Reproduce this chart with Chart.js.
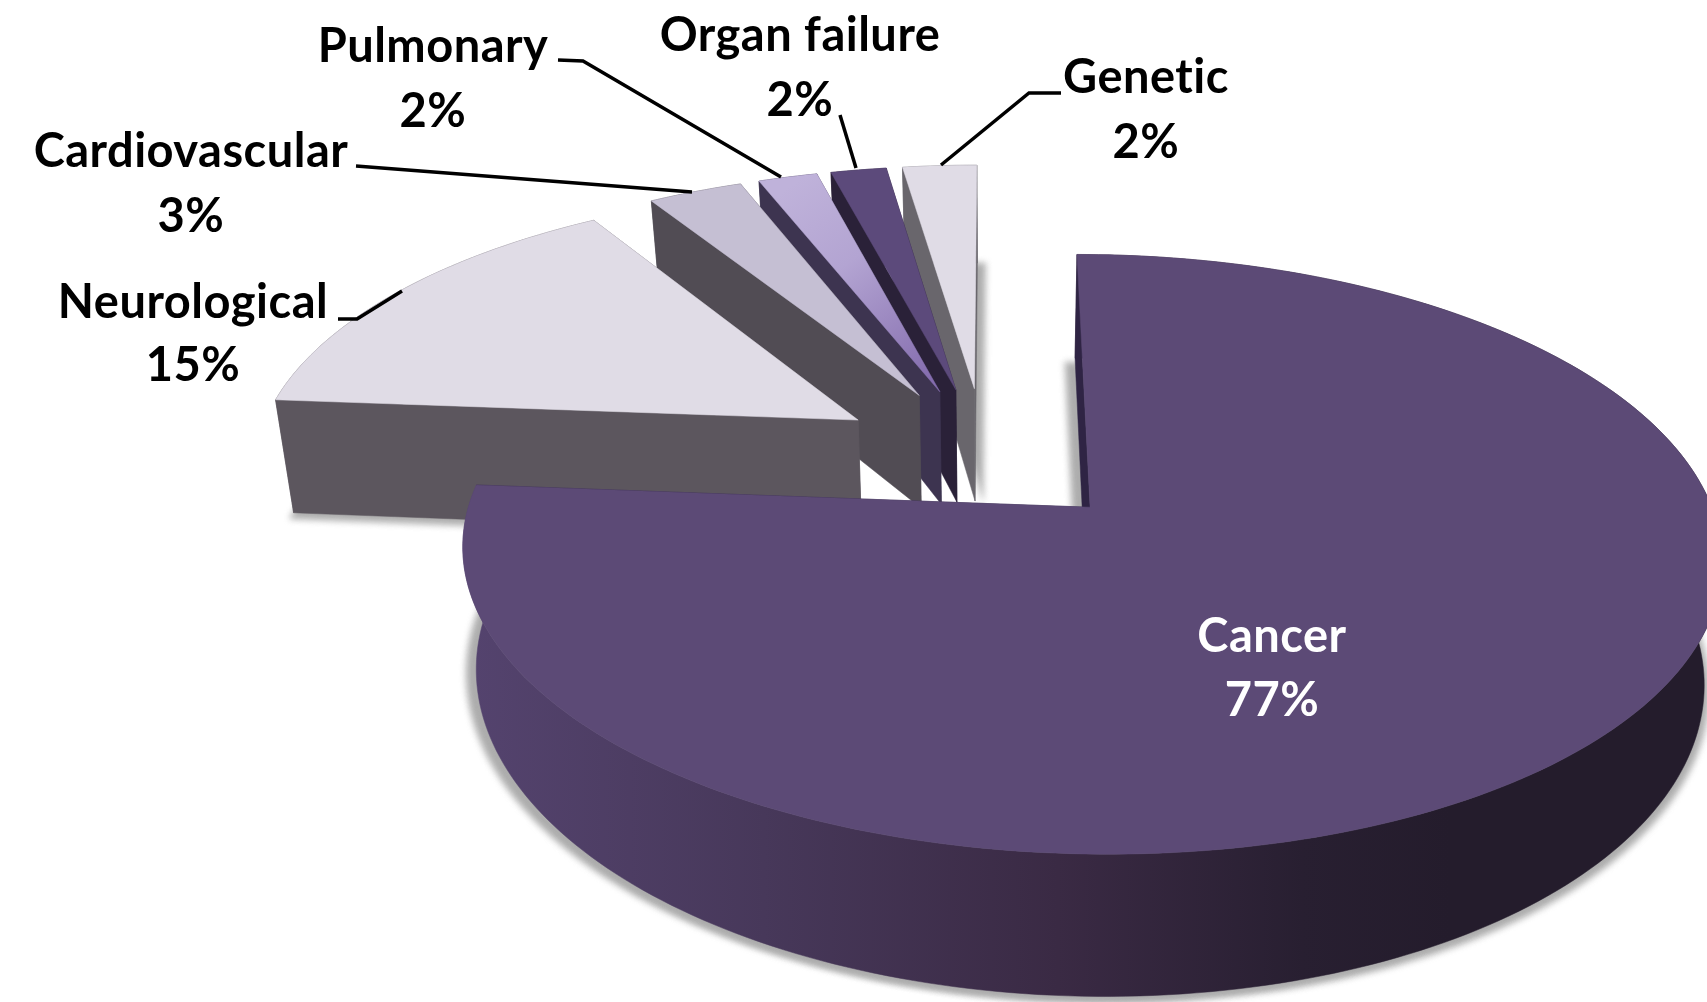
<!DOCTYPE html>
<html>
<head>
<meta charset="utf-8">
<style>
html,body{margin:0;padding:0;background:#fff;overflow:hidden}
canvas{display:block}
</style>
<script src="https://cdn.jsdelivr.net/npm/chart.js@4"></script>
</head>
<body>
<canvas id="myChart" width="1707" height="1002"></canvas>
<script>
const categories = ["Cancer", "Neurological", "Cardiovascular", "Pulmonary", "Organ failure", "Genetic"];
const values = [77, 15, 3, 1.88, 1.77, 2.36];

// styles per slice
const topColors = ["#5c4a76", "#e0dce6", "#c5bfd3", "#b6a7d4", "#5c4a7b", "#e0dce6"];
const wallColors = ["#2f2444", "#5c565e", "#514c54", "#3d3450", "#2a2138", "#69666c"];
const shadowShifts = [[[5, 6], [-10, 4]], [[-4, 6]], [], [], [], [[8, 0]]];

// label layout
const labelX = [1272, 193, 191, 433, 800, 1146];
const nameY = [637, 303, 152, 47, 36, 78];
const pctY = [701, 366, 217, 112, 101, 143];
const leaders = [
    null,
    [[338, 319], [357, 319], [402, 291]],
    [[356, 166], [692, 192]],
    [[558, 60], [583, 61], [781, 177]],
    [[840, 115], [856, 168]],
    [[941, 165], [1029, 93], [1061, 93]]
];

// pie explosion and camera of the tilted plane
const EXPLODE = 0.25;
const cam = {x: 1089, y: 508, ox: -0.168, oy: 0.186, rx: 622, ry: 292.7, lean: -15, k: 0.157, depth: 120, vanish: 1000, shrink: 0.975};

function project(u, v, low) {
    let X = u + cam.ox, Y = v + cam.oy;
    let w = 1 + cam.k * Y;
    let x = cam.x + (cam.rx * X + cam.lean * Y) / w;
    let y = cam.y - cam.ry * Y / w;
    if (low) {
        x = cam.vanish + (x - cam.vanish) * cam.shrink;
        y += cam.depth / w;
    }
    return [x, y];
}

function slicePoints(arc, low) {
    let a0 = arc.startAngle, a1 = arc.endAngle, mid = (a0 + a1) / 2;
    let cx = EXPLODE * Math.cos(mid), cy = -EXPLODE * Math.sin(mid);
    let pts = [];
    let n = Math.max(2, Math.ceil((a1 - a0) / 0.02));
    for (let i = 0; i <= n; i++) {
        let a = a0 + (a1 - a0) * i / n;
        pts.push(project(cx + Math.cos(a), cy - Math.sin(a), low));
    }
    return {apex: project(cx, cy, low), rim: pts};
}

function fillPoly(ctx, pts, fill) {
    ctx.beginPath();
    pts.forEach((p, i) => i ? ctx.lineTo(p[0], p[1]) : ctx.moveTo(p[0], p[1]));
    ctx.closePath();
    ctx.fillStyle = fill;
    ctx.fill();
    ctx.strokeStyle = fill;
    ctx.lineWidth = 0.5;
    ctx.stroke();
}

function cancerWall(ctx) {
    let g = ctx.createLinearGradient(470, 0, 1450, 0);
    g.addColorStop(0, "#54436e");
    g.addColorStop(0.3, "#47385a");
    g.addColorStop(0.6, "#3a2a44");
    g.addColorStop(0.85, "#281f31");
    g.addColorStop(1, "#241c2c");
    return g;
}

function pulmonaryTop(ctx) {
    let g = ctx.createLinearGradient(785, 190, 925, 385);
    g.addColorStop(0, "#bfb2da");
    g.addColorStop(0.4, "#b3a4d2");
    g.addColorStop(1, "#846cae");
    return g;
}

const pie3d = {
    id: "pie3d",
    beforeDatasetsDraw(chart) {
        const ctx = chart.ctx;
        const arcs = chart.getDatasetMeta(0).data;
        ctx.save();

        // soft shadows under the slices
        ctx.filter = "blur(3px)";
        arcs.forEach((arc, i) => {
            let low = slicePoints(arc, true);
            shadowShifts[i].forEach(s => {
                let pts = [low.apex].concat(low.rim).map(p => [p[0] + s[0], p[1] + s[1]]);
                fillPoly(ctx, pts, "#adadad");
            });
        });
        ctx.filter = "none";

        // far slices first, cancer last
        for (let i = arcs.length - 1; i >= 0; i--) {
            let top = slicePoints(arcs[i], false);
            let low = slicePoints(arcs[i], true);
            let n = top.rim.length - 1;

            // outer wall
            let outer = top.rim.concat(low.rim.slice().reverse());
            fillPoly(ctx, outer, i == 0 ? cancerWall(ctx) : wallColors[i]);
            // the two cut walls
            fillPoly(ctx, [top.apex, top.rim[n], low.rim[n], low.apex], wallColors[i]);
            fillPoly(ctx, [top.apex, top.rim[0], low.rim[0], low.apex], wallColors[i]);
            // top face
            let fill = i == 3 ? pulmonaryTop(ctx) : arcs[i].options.backgroundColor;
            fillPoly(ctx, [top.apex].concat(top.rim), fill);
        }
        ctx.restore();

        // leader lines
        ctx.save();
        ctx.strokeStyle = "#000";
        ctx.lineWidth = 3.5;
        leaders.forEach(line => {
            if (!line) return;
            ctx.beginPath();
            line.forEach((p, i) => i ? ctx.lineTo(p[0], p[1]) : ctx.moveTo(p[0], p[1]));
            ctx.stroke();
        });

        // labels
        ctx.font = "bold 47px Lato";
        ctx.letterSpacing = "0.5px";
        ctx.textAlign = "center";
        ctx.textBaseline = "middle";
        categories.forEach((name, i) => {
            ctx.fillStyle = i == 0 ? "#fff" : "#000";
            ctx.fillText(name, labelX[i], nameY[i]);
            ctx.fillText(Math.round(values[i]) + "%", labelX[i], pctY[i]);
        });
        ctx.restore();
        return false;
    }
};

var chart = new Chart(document.getElementById("myChart"), {
    type: "pie",
    data: {
        labels: categories,
        datasets: [{data: values, backgroundColor: topColors, borderWidth: 0}]
    },
    options: {
        responsive: false,
        animation: false,
        plugins: {legend: {display: false}, tooltip: {enabled: false}}
    },
    plugins: [pie3d]
});
</script>
</body>
</html>
